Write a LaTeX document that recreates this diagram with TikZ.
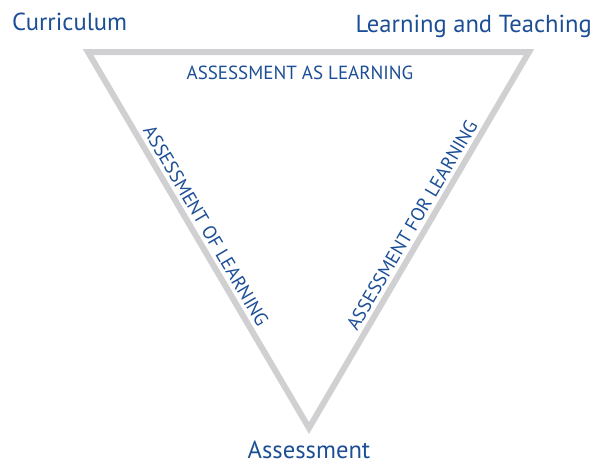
\documentclass[tikz,border=0pt]{standalone}
\usepackage{fontspec}
\setmainfont{PT Sans}
\definecolor{txtblue}{RGB}{28,78,150}
\definecolor{linegray}{RGB}{208,208,210}
\begin{document}
\begin{tikzpicture}[x=1pt,y=-1pt,
  edge/.style={draw=linegray,line width=6pt,line join=miter},
  corner/.style={font=\fontsize{24.6}{28}\selectfont,text=txtblue,inner sep=0pt},
  side/.style={font=\fontsize{19}{22}\selectfont,text=txtblue,inner sep=0pt}]
\useasboundingbox (0,0) rectangle (604,464);
\coordinate (tl) at (88,52);
\coordinate (tr) at (529,52);
\coordinate (b) at (309,428);
\draw[edge] (tl) -- (tr) -- (b) -- cycle;
\node[corner,anchor=base west] (cur) at (12,30) {Curriculum};
\node[corner,anchor=base east] (lt) at (592,32) {Learning and Teaching};
\node[corner,anchor=base] (ass) at (309,458.5) {Assessment};
\node[side] (asl) at (300,73) {ASSESSMENT AS LEARNING};
\node[side,rotate=-59.6] (ofl) at (206,226) {ASSESSMENT OF LEARNING};
\node[side,rotate=59.6] (forl) at (412,225) {ASSESSMENT FOR LEARNING};
\end{tikzpicture}
\end{document}
